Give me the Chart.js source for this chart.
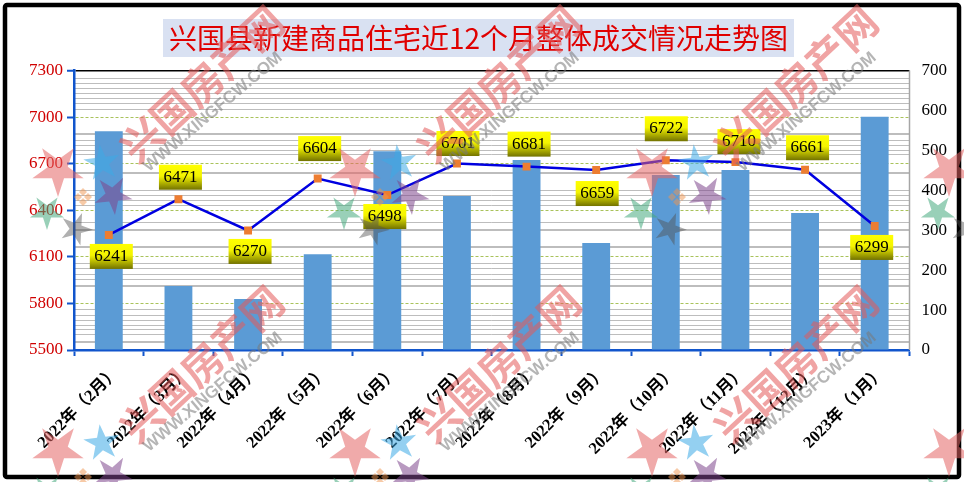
<!DOCTYPE html>
<html>
<head>
<meta charset="utf-8">
<style>
  html, body { margin: 0; padding: 0; background: #fff; }
  canvas { display: block; }
</style>
<script src="https://cdn.jsdelivr.net/npm/chart.js@4"></script>
</head>
<body>
<canvas id="trend" width="964" height="482"></canvas>
<script>
const titleText = '兴国县新建商品住宅近12个月整体成交情况走势图';
const months = ['2022年（2月）', '2022年（3月）', '2022年（4月）', '2022年（5月）', '2022年（6月）', '2022年（7月）',
                '2022年（8月）', '2022年（9月）', '2022年（10月）', '2022年（11月）', '2022年（12月）', '2023年（1月）'];
const volumes = [548, 160, 128, 240, 498, 386, 476, 268, 438, 451, 343, 584];
const prices = [6241, 6471, 6270, 6604, 6498, 6701, 6681, 6659, 6722, 6710, 6661, 6299];
// where each price box sits relative to its point
const boxDx = [2.5, 2, 2, 2, -2.5, 1, 2.5, 1, 0.5, 3.5, 2.5, -3];
const boxDy = [21.5, -22, 21, -30, 21.5, -20, -22.5, 23.5, -31.5, -20.5, -22, 21.5];
// grey lines of the plot, in left axis units
const greyLines = [7248, 7216, 7184, 7152, 7120, 7087, 7046, 6889, 6852, 6820, 6788, 6756, 6640, 6530, 6498, 6466, 6431,
                   6324, 6273, 6165, 6054, 6022, 5989, 5957, 5914, 5758, 5725, 5693, 5661, 5629, 5597, 5553];
const thickLines = [6889, 6640, 6273, 6165, 5914, 5553];

const serif = '"Liberation Serif", "Noto Sans CJK SC", serif';

function star(ctx, x, y, r, rot, color) {
    ctx.fillStyle = color;
    ctx.beginPath();
    for (let i = 0; i < 10; i++) {
        const a = rot + i * Math.PI / 5;
        const d = i % 2 ? r * 0.38 : r;
        ctx.lineTo(x + Math.cos(a) * d, y + Math.sin(a) * d);
    }
    ctx.closePath();
    ctx.fill();
}

function flower(ctx, x, y) {
    ctx.fillStyle = 'rgba(240,150,80,0.5)';
    [[0, -5], [5, 0], [0, 5], [-5, 0]].forEach(p => {
        ctx.beginPath();
        ctx.moveTo(x + p[0], y + p[1] - 4);
        ctx.lineTo(x + p[0] + 4, y + p[1]);
        ctx.lineTo(x + p[0], y + p[1] + 4);
        ctx.lineTo(x + p[0] - 4, y + p[1]);
        ctx.closePath();
        ctx.fill();
    });
}

function watermark(ctx, ox, oy) {
    const down = Math.PI / 2;
    star(ctx, ox + 58, oy + 170, 27, down, 'rgba(228,100,100,0.55)');
    star(ctx, ox + 102, oy + 163, 19, down + 0.5, 'rgba(60,170,230,0.55)');
    star(ctx, ox + 113, oy + 195, 20, down - 0.1, 'rgba(125,70,140,0.55)');
    star(ctx, ox + 47, oy + 212, 18, down, 'rgba(70,170,125,0.55)');
    star(ctx, ox + 76, oy + 229, 17, 0.05, 'rgba(80,80,80,0.45)');
    flower(ctx, ox + 83, oy + 197);

    ctx.save();
    ctx.translate(ox + 202, oy + 84);
    ctx.rotate(-0.75);
    ctx.font = 'bold 41px "Noto Sans CJK SC"';
    ctx.textAlign = 'center';
    ctx.textBaseline = 'middle';
    ctx.fillStyle = 'rgba(228,90,90,0.55)';
    ctx.fillText('兴国房产网', 0, 0);
    ctx.restore();

    ctx.save();
    ctx.translate(ox + 213, oy + 112);
    ctx.rotate(-0.7);
    ctx.font = 'bold 17px "Liberation Sans"';
    ctx.textAlign = 'center';
    ctx.textBaseline = 'middle';
    ctx.fillStyle = 'rgba(120,120,120,0.55)';
    ctx.fillText('WWW.XINGFCW.COM', 0, 0);
    ctx.restore();
}

const decoration = {
    id: 'decoration',
    beforeDraw(chart) {
        const ctx = chart.ctx;
        ctx.save();
        ctx.fillStyle = '#fff';
        ctx.fillRect(0, 0, 964, 482);
        // title box
        ctx.fillStyle = '#d9e1f2';
        ctx.fillRect(163, 19, 631, 38);
        ctx.font = '28px "Noto Sans CJK SC"';
        ctx.textAlign = 'center';
        ctx.textBaseline = 'middle';
        ctx.fillStyle = '#e00000';
        ctx.fillText(titleText, 478.5, 38);
        ctx.restore();
    },
    afterDatasetsDraw(chart) {
        const ctx = chart.ctx;
        const area = chart.chartArea;
        ctx.save();
        // right edge of the plot
        ctx.strokeStyle = '#a6a6a6';
        ctx.lineWidth = 1.5;
        ctx.beginPath();
        ctx.moveTo(area.right, area.top);
        ctx.lineTo(area.right, area.bottom);
        ctx.stroke();

        // price boxes
        const points = chart.getDatasetMeta(1).data;
        points.forEach((pt, i) => {
            const cx = pt.x + boxDx[i];
            const cy = pt.y + boxDy[i];
            const grad = ctx.createLinearGradient(0, cy - 12.5, 0, cy + 12.5);
            grad.addColorStop(0, '#ffff00');
            grad.addColorStop(0.45, '#f4f400');
            grad.addColorStop(1, '#727200');
            ctx.fillStyle = grad;
            ctx.fillRect(cx - 21.5, cy - 12.5, 43, 25);
            ctx.fillStyle = '#000';
            ctx.font = '17px ' + serif;
            ctx.textAlign = 'center';
            ctx.textBaseline = 'middle';
            ctx.fillText(String(prices[i]), cx, cy);
        });
        ctx.restore();
    },
    afterDraw(chart) {
        const ctx = chart.ctx;
        ctx.save();
        // frame
        ctx.strokeStyle = '#000';
        ctx.lineWidth = 4.5;
        ctx.beginPath();
        ctx.roundRect(5, 5, 954, 472, 2);
        ctx.stroke();
        // site watermark repeats over the whole picture
        for (let row = 0; row < 2; row++) {
            for (let col = 0; col < 4; col++) {
                watermark(ctx, col * 297, row * 280);
            }
        }
        ctx.restore();
    }
};

new Chart(document.getElementById('trend'), {
    data: {
        labels: months,
        datasets: [
            {
                type: 'bar',
                data: volumes,
                yAxisID: 'yRight',
                backgroundColor: '#5b9bd5',
                barPercentage: 0.4,
                categoryPercentage: 1,
                order: 2
            },
            {
                type: 'line',
                data: prices,
                yAxisID: 'y',
                borderColor: '#0000e0',
                borderWidth: 2.5,
                tension: 0,
                pointStyle: 'rect',
                pointRadius: 5.6,
                pointBackgroundColor: '#ed7d31',
                pointBorderWidth: 0,
                order: 1
            }
        ]
    },
    options: {
        responsive: false,
        animation: false,
        devicePixelRatio: 1,
        layout: { padding: { top: 70.5, left: 0, right: 0, bottom: 0 } },
        plugins: { legend: { display: false }, title: { display: false }, tooltip: { enabled: false } },
        scales: {
            x: {
                offset: true,
                afterFit: s => { s.height = 132; },
                grid: { offset: true, drawOnChartArea: false, tickLength: 6, tickColor: '#1155cc', tickWidth: 2 },
                border: { color: '#1155cc', width: 2.5 },
                ticks: {
                    minRotation: 45,
                    maxRotation: 45,
                    autoSkip: false,
                    padding: 7,
                    labelOffset: 8,
                    color: '#000',
                    font: { family: serif, size: 16.5, weight: 'bold' }
                }
            },
            y: {
                position: 'left',
                min: 5500,
                max: 7300,
                afterFit: s => { s.width = 74; },
                grid: {
                    color: ctx => ctx.tick && ctx.tick.value === 7300 ? '#000' : '#a9c25a',
                    lineWidth: ctx => ctx.tick && ctx.tick.value === 7300 ? 1.5 : 1,
                    tickLength: 7,
                    tickColor: '#1155cc',
                    tickWidth: 2
                },
                border: {
                    color: '#1155cc',
                    width: 2.5,
                    dash: ctx => ctx.tick && ctx.tick.value === 7300 ? [] : [3, 2]
                },
                ticks: { stepSize: 300, padding: 4, color: '#d00000', callback: v => String(v), font: { family: serif, size: 17 } }
            },
            yGrey: {
                position: 'left',
                min: 5500,
                max: 7300,
                afterBuildTicks: s => { s.ticks = greyLines.map(v => ({ value: v })); },
                afterFit: s => { s.width = 0; },
                grid: {
                    color: '#bdbdbd',
                    lineWidth: ctx => ctx.tick && thickLines.includes(ctx.tick.value) ? 2 : 1,
                    drawTicks: false
                },
                border: { display: false },
                ticks: { display: false, autoSkip: false }
            },
            yRight: {
                position: 'right',
                min: 0,
                max: 700,
                afterFit: s => { s.width = 54.5; },
                grid: { drawOnChartArea: false, drawTicks: false },
                border: { display: false },
                ticks: { stepSize: 100, padding: 12, color: '#000', font: { family: serif, size: 17 } }
            }
        }
    },
    plugins: [decoration]
});
</script>
</body>
</html>
